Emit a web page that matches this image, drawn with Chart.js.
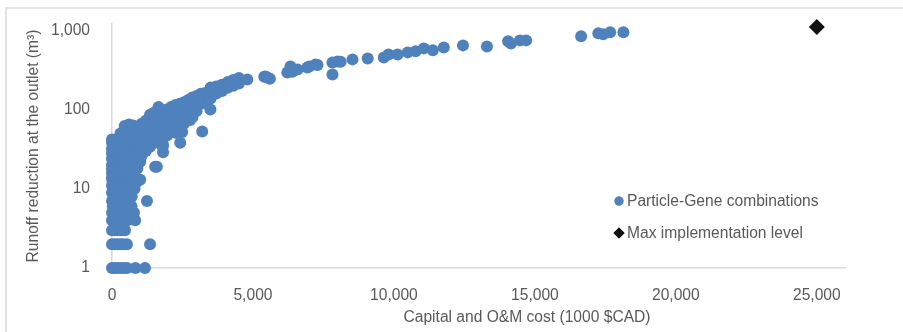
<!DOCTYPE html>
<html>
<head>
<meta charset="utf-8">
<title>Runoff reduction vs cost</title>
<script src="https://cdn.jsdelivr.net/npm/chart.js@4.4.1/dist/chart.umd.min.js"></script>
<style>
  html, body { margin: 0; padding: 0; background: #fff; overflow: hidden; }
  #frame {
    position: absolute; left: 5px; top: 7px; width: 920px; height: 360px;
    border-top: 2px solid #e3e3e3; border-left: 2px solid #e3e3e3;
  }
  #chart { position: absolute; left: 0; top: 0; }
</style>
</head>
<body>
<div id="frame"></div>
<canvas id="chart" width="903" height="332"></canvas>
<script>
// [cost (1000 $CAD), runoff reduction (m3)]
const lowRows = [
  [0, 1], [80, 1], [180, 1], [300, 1], [420, 1], [530, 1], [830, 1], [1170, 1],
  [0, 2], [90, 2], [200, 2], [300, 2], [400, 2], [530, 2], [1350, 2],
  [0, 3], [90, 3], [180, 3], [280, 3], [380, 3], [460, 3],
  [0, 4], [100, 4], [200, 4], [300, 4], [420, 4], [550, 4], [820, 4]
];

const denseColumn = [
  [0, 5], [120, 5], [260, 5], [410, 5], [560, 5], [780, 5],
  [200, 5.5], [480, 5.5], [680, 5.5],
  [30, 6], [180, 6], [330, 6], [500, 6], [690, 6],
  [100, 6.5], [400, 6.5], [600, 6.5],
  [0, 7], [140, 7], [290, 7], [450, 7], [620, 7],
  [220, 7.5], [520, 7.5],
  [60, 8], [210, 8], [370, 8], [540, 8], [700, 8],
  [120, 8.5], [440, 8.5], [620, 8.5],
  [0, 9], [150, 9], [300, 9], [470, 9], [640, 9],
  [240, 9.5], [560, 9.5],
  [40, 10], [190, 10], [350, 10], [520, 10], [720, 10], [800, 10],
  [0, 11], [130, 11], [280, 11], [440, 11], [610, 11],
  [70, 12], [230, 12], [400, 12], [580, 12], [860, 12],
  [10, 13], [170, 13], [330, 13], [500, 13], [700, 13],
  [0, 14], [120, 14], [260, 14], [450, 14], [640, 14], [820, 14],
  [50, 15], [210, 15], [380, 15], [560, 15], [760, 15],
  [0, 16], [150, 16], [310, 16], [490, 16], [680, 16],
  [80, 17], [240, 17], [420, 17], [600, 17], [820, 17],
  [0, 18], [170, 18], [350, 18], [530, 18], [720, 18], [900, 18],
  [40, 19], [200, 19], [380, 19], [560, 19], [780, 19],
  [0, 20], [130, 20], [290, 20], [460, 20], [650, 20], [900, 20],
  [60, 22], [220, 22], [400, 22], [590, 22], [800, 22], [1000, 22],
  [0, 24], [160, 24], [340, 24], [520, 24], [720, 24], [950, 24],
  [90, 26], [260, 26], [450, 26], [640, 26], [860, 26], [1050, 26],
  [0, 28], [180, 28], [370, 28], [560, 28], [780, 28], [1000, 28],
  [50, 30], [240, 30], [430, 30], [630, 30], [850, 30], [1100, 30],
  [0, 32], [170, 32], [380, 32], [590, 32], [810, 32], [1050, 32],
  [80, 35], [290, 35], [500, 35], [720, 35], [950, 35], [1200, 35],
  [0, 38], [200, 38], [420, 38], [650, 38], [880, 38], [1150, 38],
  [60, 40], [300, 40], [540, 40], [780, 40], [1000, 40],
  [0, 42], [180, 42], [420, 42]
];

const rampBand = [
  [300, 45], [300, 50],
  [450, 48], [450, 55], [450, 62],
  [600, 42], [600, 50], [600, 58], [600, 65],
  [750, 38], [750, 46], [750, 55], [750, 63],
  [900, 35], [900, 44], [900, 52], [900, 60],
  [1050, 32], [1050, 40], [1050, 48], [1050, 57], [1050, 66],
  [1200, 30], [1200, 38], [1200, 46], [1200, 55], [1200, 64], [1200, 72],
  [1350, 34], [1350, 42], [1350, 52], [1350, 62], [1350, 74], [1350, 86],
  [1500, 38], [1500, 47], [1500, 58], [1500, 70], [1500, 82], [1500, 92],
  [1650, 40], [1650, 50], [1650, 62], [1650, 76], [1650, 90], [1650, 108],
  [1800, 34], [1800, 44], [1800, 56], [1800, 68], [1800, 82], [1800, 98],
  [1950, 47], [1950, 58], [1950, 72], [1950, 86], [1950, 100],
  [2100, 52], [2100, 64], [2100, 78], [2100, 92], [2100, 108],
  [2250, 51], [2250, 60], [2250, 72], [2250, 86], [2250, 100], [2250, 114],
  [2400, 58], [2400, 70], [2400, 84], [2400, 98], [2400, 118],
  [2550, 66], [2550, 80], [2550, 94], [2550, 108], [2550, 124],
  [2700, 74], [2700, 88], [2700, 102], [2700, 118], [2700, 132],
  [2850, 80], [2850, 95], [2850, 110], [2850, 126], [2850, 142],
  [3000, 96], [3000, 112], [3000, 128], [3000, 148],
  [3150, 118], [3150, 136], [3150, 158],
  [3300, 122], [3300, 140], [3300, 162],
  [3500, 138], [3500, 155], [3500, 175], [3500, 190],
  [3700, 160], [3700, 178], [3700, 196],
  [3900, 172], [3900, 190], [3900, 206],
  [4100, 188], [4100, 204], [4100, 222],
  [4300, 200], [4300, 218], [4300, 236],
  [4500, 214], [4500, 232], [4500, 250]
];

const upperCurve = [
  [4800, 240], [5400, 260], [5440, 262], [5510, 254], [5600, 245],
  [6220, 294], [6330, 350], [6400, 300], [6580, 321], [6930, 340],
  [7000, 350], [7220, 371], [7290, 365], [7820, 393], [8000, 405],
  [8110, 400], [8530, 430], [9070, 442], [9640, 455], [9810, 497],
  [10130, 497], [10490, 527], [10770, 543], [11060, 592], [11380, 559],
  [11770, 609], [12450, 646], [13300, 627], [14050, 726], [14150, 684],
  [14470, 747], [14690, 747], [16640, 840], [17250, 916], [17420, 890],
  [17670, 944], [18140, 944]
];

const strayPoints = [
  [1000, 13], [1240, 7], [1530, 19], [1590, 19], [1810, 29], [1810, 36],
  [2420, 38], [2490, 52], [2770, 74], [3200, 53], [3490, 100], [7820, 277]
];

const maxLevel = [[25000, 1100]];

const xTicks = [0, 5000, 10000, 15000, 20000, 25000];
const yTicks = [1, 10, 100, 1000];

const comboLabel = 'Particle-Gene combinations';
const maxLabel = 'Max implementation level';
const xTitle = 'Capital and O&M cost (1000 $CAD)';
const yTitle = 'Runoff reduction at the outlet (m\u00B3)';

const toPoints = list => list.map(([x, y]) => ({ x, y }));
const combos = [].concat(lowRows, denseColumn, rampBand, upperCurve, strayPoints);

const FONT = "'Liberation Sans', Arial, sans-serif";
const TEXT = '#595959';
Chart.defaults.font.family = FONT;
Chart.defaults.font.size = 15.6;
Chart.defaults.color = TEXT;

const fmt = v => Number(v).toLocaleString('en-US');

// legend sits inside the plot, plus the two axis titles
const extras = {
  id: 'extras',
  afterDraw(chart) {
    const ctx = chart.ctx;
    const sets = chart.data.datasets;
    ctx.save();
    ctx.font = `15.6px ${FONT}`;
    ctx.fillStyle = TEXT;
    ctx.textBaseline = 'middle';

    const rows = [[sets[0], 201, 4.5], [sets[1], 233, 5.5]];
    rows.forEach(([ds, y, r]) => {
      ctx.fillStyle = ds.backgroundColor;
      Chart.helpers.drawPoint(ctx, { pointStyle: ds.pointStyle, radius: r, borderWidth: 0 }, 619, y);
      ctx.fill();
      ctx.fillStyle = TEXT;
      ctx.textAlign = 'left';
      ctx.fillText(ds.label, 627, y + 1);
    });

    ctx.textAlign = 'center';
    ctx.fillText(xTitle, 527, 318);

    ctx.translate(34, 146);
    ctx.rotate(-Math.PI / 2);
    ctx.fillText(yTitle, 0, 0);
    ctx.restore();
  }
};

new Chart(document.getElementById('chart'), {
  type: 'scatter',
  data: {
    datasets: [
      {
        label: comboLabel,
        data: toPoints(combos),
        pointStyle: 'circle',
        pointRadius: 6,
        pointHoverRadius: 6,
        backgroundColor: '#4f81bd',
        borderWidth: 0,
        clip: false
      },
      {
        label: maxLabel,
        data: toPoints(maxLevel),
        pointStyle: 'rectRot',
        pointRadius: 8,
        pointHoverRadius: 8,
        backgroundColor: '#111111',
        borderWidth: 0,
        clip: false
      }
    ]
  },
  options: {
    responsive: false,
    animation: false,
    devicePixelRatio: 1,
    layout: { padding: { top: 23, right: 58, left: 0, bottom: 0 } },
    plugins: { legend: { display: false }, tooltip: { enabled: false } },
    scales: {
      x: {
        type: 'linear',
        min: 0,
        max: 26000,
        grid: { display: false },
        border: { display: true, color: '#d9d9d9', width: 1.5 },
        ticks: { padding: 10, color: TEXT, callback: fmt },
        afterBuildTicks: s => { s.ticks = xTicks.map(value => ({ value })); },
        afterFit: s => { s.height = 64; }
      },
      y: {
        type: 'logarithmic',
        min: 1,
        max: 1225,
        grid: { display: false },
        border: { display: true, color: '#d9d9d9', width: 1.5 },
        ticks: { padding: 14, color: TEXT, callback: fmt },
        afterBuildTicks: s => { s.ticks = yTicks.map(value => ({ value })); },
        afterFit: s => { s.width = 112; }
      }
    }
  },
  plugins: [extras]
});
</script>
</body>
</html>
